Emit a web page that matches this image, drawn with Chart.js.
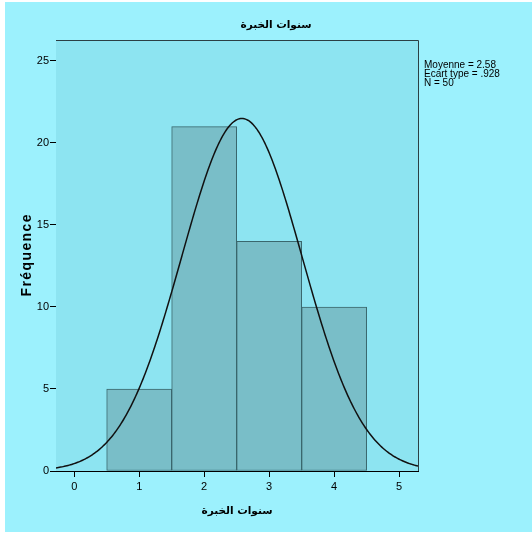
<!DOCTYPE html>
<html>
<head>
<meta charset="utf-8">
<script src="https://cdn.jsdelivr.net/npm/chart.js@4/dist/chart.umd.min.js"></script>
<style>
  html, body { margin: 0; padding: 0; background: #ffffff; }
  #wrap { position: absolute; left: 5px; top: 2px; width: 527px; height: 530px; background: #9cf1fd; }
</style>
</head>
<body>
<div id="wrap"><canvas id="histo" width="527" height="530"></canvas></div>
<script>
// Histogramme : سنوات الخبرة
const chartTitle = "سنوات الخبرة";
const xTitle = "سنوات الخبرة";
const yTitle = "Fréquence";

const binCenters = [1, 2, 3, 4];
const counts = [5, 21, 14, 10];
const binWidth = 1;

const xTicks = [0, 1, 2, 3, 4, 5];
const yTicks = [0, 5, 10, 15, 20, 25];

const mean = 2.58;
const stdDev = 0.928;
const nObs = 50;
const statsLines = ["Moyenne = 2.58", "Ecart type = .928", "N = 50"];

const xMin = -0.28, xMax = 5.29;
const yMin = 0, yMax = 26.28;

// courbe normale (moyenne, écart type, N) mise à l'échelle des effectifs
function normalCurve() {
    const pts = [];
    const steps = 300;
    for (let i = 0; i <= steps; i++) {
        const x = xMin + (xMax - xMin) * i / steps;
        const z = (x - mean) / stdDev;
        const y = nObs * binWidth * Math.exp(-0.5 * z * z) / (stdDev * Math.sqrt(2 * Math.PI));
        pts.push({ x: x, y: y });
    }
    return pts;
}

// fond de la zone de tracé, cadre haut/droite, titres et statistiques
const decor = {
    id: "decor",
    beforeDatasetsDraw(chart) {
        const a = chart.chartArea, ctx = chart.ctx;
        ctx.save();
        ctx.fillStyle = "#8de4f1";
        ctx.fillRect(a.left, a.top, a.right - a.left, a.bottom - a.top);
        ctx.restore();
    },
    afterDraw(chart) {
        const a = chart.chartArea, ctx = chart.ctx;
        ctx.save();
        ctx.strokeStyle = "#2b3f44";
        ctx.lineWidth = 1;
        ctx.beginPath();
        ctx.moveTo(a.left, a.top + 0.5);
        ctx.lineTo(a.right + 0.5, a.top + 0.5);
        ctx.lineTo(a.right + 0.5, a.bottom);
        ctx.stroke();

        ctx.fillStyle = "#000";
        ctx.textAlign = "center";
        ctx.textBaseline = "middle";
        ctx.font = "bold 10.5px 'DejaVu Sans', sans-serif";
        ctx.fillText(chartTitle, 271, 23);

        // titre de l'axe vertical, espacé
        ctx.save();
        ctx.translate(22, (a.top + a.bottom) / 2);
        ctx.rotate(-Math.PI / 2);
        ctx.font = "bold 14px 'Liberation Sans', Arial, sans-serif";
        ctx.letterSpacing = "1.4px";
        ctx.fillText(yTitle, 0.7, 0);
        ctx.restore();

        ctx.textAlign = "left";
        ctx.font = "10px 'Liberation Sans', Arial, sans-serif";
        statsLines.forEach((t, i) => ctx.fillText(t, 419, 63 + i * 9));
        ctx.restore();
    }
};

const ctx = document.getElementById("histo").getContext("2d");
new Chart(ctx, {
    data: {
        datasets: [
            {
                type: "line",
                data: normalCurve(),
                borderColor: "#111",
                borderWidth: 1.5,
                pointRadius: 0,
                fill: false,
                order: 0
            },
            {
                type: "bar",
                data: binCenters.map((c, i) => ({ x: c, y: counts[i] })),
                backgroundColor: "#79bec8",
                borderColor: "#3a676d",
                borderWidth: 1,
                borderSkipped: false,
                barPercentage: 1,
                categoryPercentage: 1,
                grouped: false,
                order: 1
            }
        ]
    },
    options: {
        responsive: false,
        animation: false,
        layout: { padding: { top: 38, right: 114, bottom: 0, left: 0 } },
        plugins: {
            legend: { display: false },
            tooltip: { enabled: false },
            title: { display: false }
        },
        scales: {
            x: {
                type: "linear",
                min: xMin,
                max: xMax,
                offset: false,
                afterBuildTicks: s => { s.ticks = xTicks.map(v => ({ value: v })); },
                afterFit: s => { s.height = 61; },
                grid: { offset: false, drawOnChartArea: false, drawTicks: true, tickLength: 6, color: "#000" },
                border: { display: true, color: "#000", width: 1 },
                ticks: {
                    padding: 3,
                    color: "#000",
                    font: { family: "'Liberation Sans', Arial, sans-serif", size: 11 }
                },
                title: {
                    display: true,
                    text: xTitle,
                    color: "#000",
                    font: { family: "'DejaVu Sans', sans-serif", size: 10.5, weight: "bold" },
                    padding: { top: 6, bottom: 14 }
                }
            },
            y: {
                min: yMin,
                max: yMax,
                afterBuildTicks: s => { s.ticks = yTicks.map(v => ({ value: v })); },
                afterFit: s => { s.width = 51; },
                grid: { drawOnChartArea: false, drawTicks: true, tickLength: 6, color: "#000" },
                border: { display: true, color: "#000", width: 1 },
                ticks: {
                    padding: 1,
                    color: "#000",
                    font: { family: "'Liberation Sans', Arial, sans-serif", size: 11 }
                },
                title: { display: false }
            }
        }
    },
    plugins: [decor]
});
</script>
</body>
</html>
